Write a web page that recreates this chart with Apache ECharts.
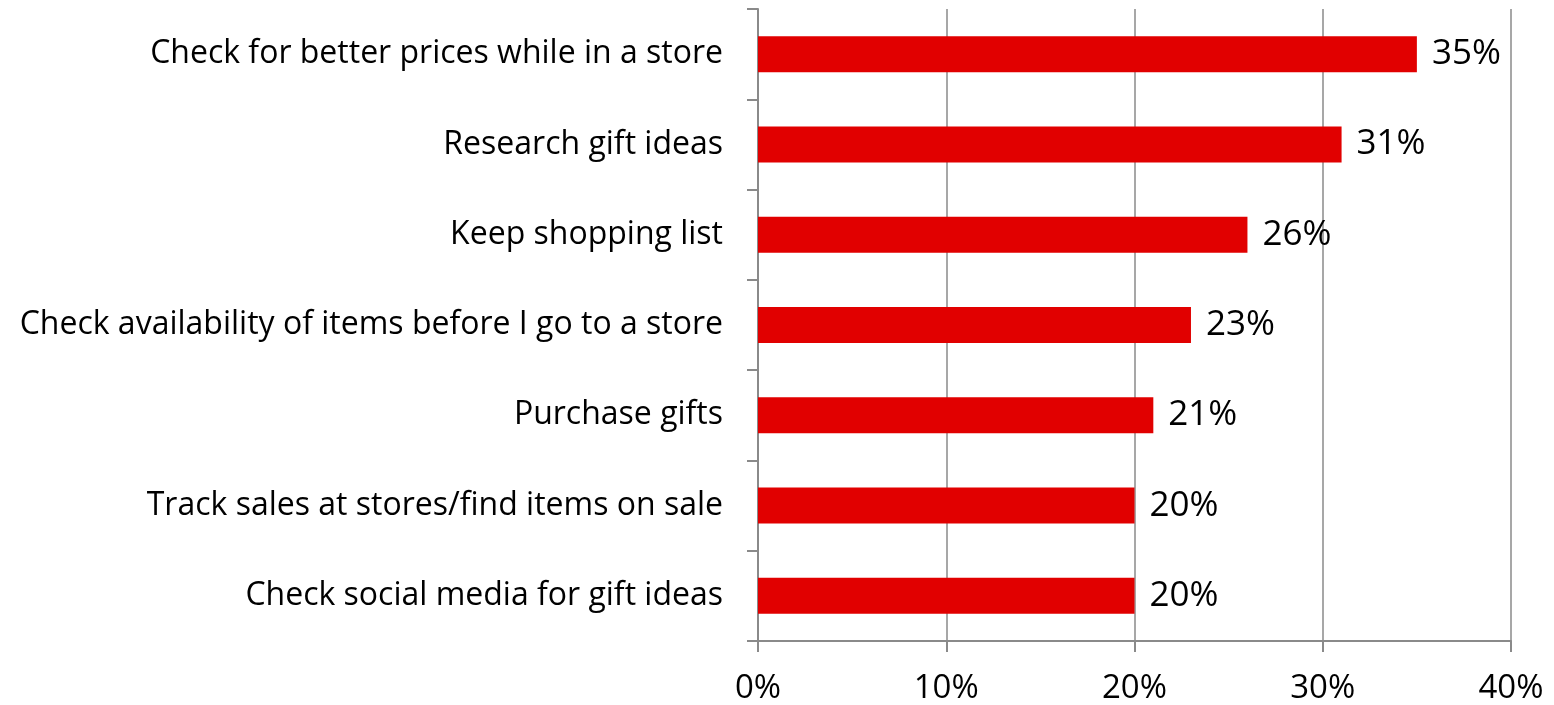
<!DOCTYPE html>
<html>
<head>
<meta charset="utf-8">
<script src="https://cdn.jsdelivr.net/npm/echarts@6/dist/echarts.min.js"></script>
<style>
  html, body { margin: 0; padding: 0; background: #ffffff; }
  #chart { width: 1554px; height: 705px; }
</style>
</head>
<body>
<div id="chart"></div>
<script>
// Holiday shopping activities on a smartphone (share of respondents, %)
const categories = [
  'Check for better prices while in a store',
  'Research gift ideas',
  'Keep shopping list',
  'Check availability of items before I go to a store',
  'Purchase gifts',
  'Track sales at stores/find items on sale',
  'Check social media for gift ideas'
];
const values = [35, 31, 26, 23, 21, 20, 20];
const xTicks = [0, 10, 20, 30, 40];

const FONT = '"Open Sans", Lato, sans-serif';
const AXIS_GRAY = '#8a8a8a';

const chart = echarts.init(document.getElementById('chart'), null, { renderer: 'canvas' });

chart.setOption({
  animation: false,
  backgroundColor: '#ffffff',
  grid: { left: 758, width: 753, top: 9, height: 635, containLabel: false },
  xAxis: {
    type: 'value',
    min: xTicks[0],
    max: xTicks[xTicks.length - 1],
    interval: xTicks[1] - xTicks[0],
    axisLine: { show: true, lineStyle: { color: AXIS_GRAY, width: 2 } },
    axisTick: { show: true, length: 11, lineStyle: { color: AXIS_GRAY, width: 2 } },
    splitLine: { show: true, lineStyle: { color: AXIS_GRAY, width: 1.5 } },
    axisLabel: {
      margin: 31,
      color: '#000000',
      fontFamily: FONT,
      fontSize: 33,
      formatter: v => v + '%'
    }
  },
  yAxis: {
    type: 'category',
    inverse: true,
    data: categories,
    axisLine: { show: true, lineStyle: { color: AXIS_GRAY, width: 2 } },
    axisTick: { show: true, length: 11, lineStyle: { color: AXIS_GRAY, width: 2 } },
    splitLine: { show: false },
    axisLabel: {
      margin: 35,
      color: '#000000',
      fontFamily: FONT,
      fontSize: 32
    }
  },
  series: [{
    type: 'bar',
    data: values,
    barWidth: 36,
    itemStyle: { color: '#e10000' },
    label: {
      show: true,
      position: 'right',
      distance: 15,
      color: '#000000',
      fontFamily: FONT,
      fontSize: 35,
      formatter: p => p.value + '%'
    }
  }]
});
</script>
</body>
</html>
